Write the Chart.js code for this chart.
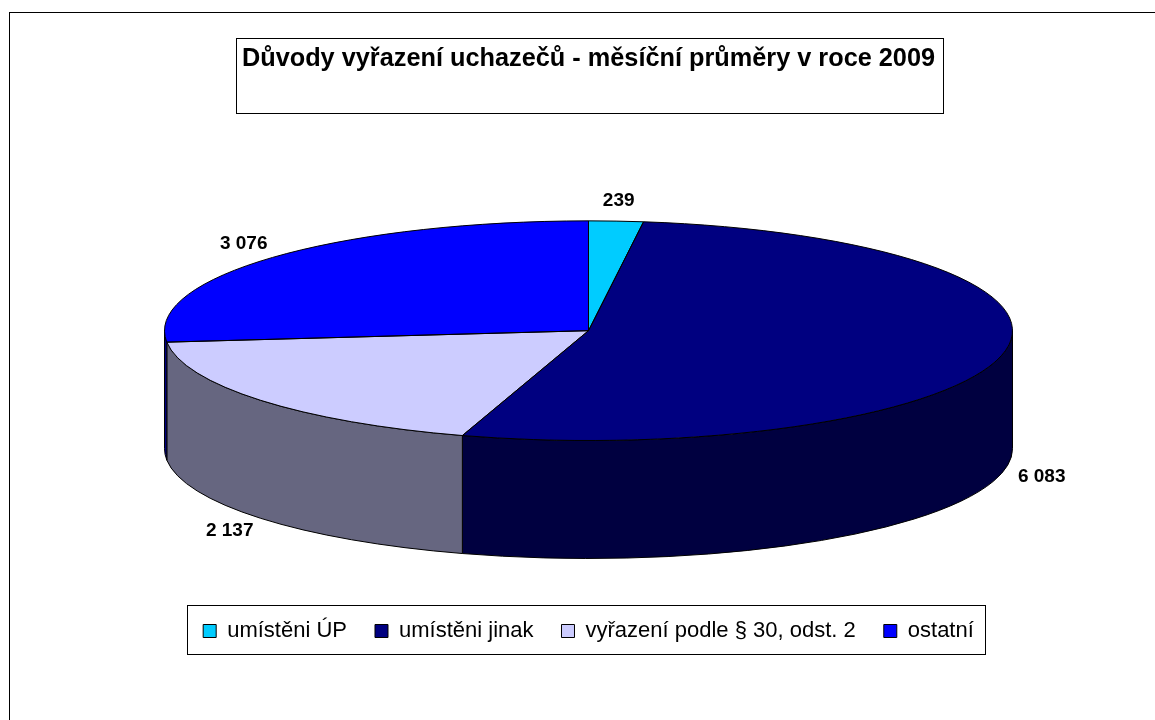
<!DOCTYPE html>
<html lang="cs">
<head>
<meta charset="utf-8">
<title>Důvody vyřazení uchazečů</title>
<script src="https://cdn.jsdelivr.net/npm/chart.js@4.4.0/dist/chart.umd.min.js"></script>
<style>
  html, body { margin: 0; padding: 0; background: #fff; }
  canvas { display: block; }
</style>
</head>
<body>
<canvas id="pieChart" width="1155" height="720"></canvas>
<script>
let chartTitle = 'Důvody vyřazení uchazečů - měsíční průměry v roce 2009';
let categories = ['umístěni ÚP', 'umístěni jinak', 'vyřazení podle § 30, odst. 2', 'ostatní'];
let monthlyAverages = [239, 6083, 2137, 3076];
let topColors = ['#00CCFF', '#000080', '#CCCCFF', '#0000FF'];
let sideColors = ['#006680', '#000040', '#666680', '#000080'];

let tilt = 0.259;   // ry / rx of the top face
let depth = 118;    // height of the pie wall
let fontFamily = '"Liberation Sans", Arial, sans-serif';
let titleSize = 25.3;
let titlePadding = { top: 44, bottom: -5 };

function formatValue(v) {
    return String(v).replace(/\B(?=(\d{3})+(?!\d))/g, ' ');
}

function pieGeometry(chart) {
    let arcs = chart.getDatasetMeta(0).data;
    let rx = arcs[0].outerRadius;
    return { arcs: arcs, cx: arcs[0].x, cy: arcs[0].y, rx: rx, ry: rx * tilt };
}

// squash the pie into an ellipse and give it a wall
let pie3d = {
    id: 'pie3d',
    beforeDatasetsDraw(chart) {
        let ctx = chart.ctx;
        let g = pieGeometry(chart);
        ctx.save();
        ctx.lineWidth = 1;
        ctx.strokeStyle = '#000';
        g.arcs.forEach((arc, i) => {
            let a0 = Math.max(arc.startAngle, 0);
            let a1 = Math.min(arc.endAngle, Math.PI);
            if (a1 <= a0) return;
            ctx.beginPath();
            ctx.ellipse(g.cx, g.cy, g.rx, g.ry, 0, a0, a1);
            ctx.lineTo(g.cx + g.rx * Math.cos(a1), g.cy + g.ry * Math.sin(a1) + depth);
            ctx.ellipse(g.cx, g.cy + depth, g.rx, g.ry, 0, a1, a0, true);
            ctx.closePath();
            ctx.fillStyle = sideColors[i];
            ctx.fill();
            ctx.stroke();
        });
        ctx.restore();

        ctx.save();
        ctx.translate(g.cx, g.cy);
        ctx.scale(1, tilt);
        ctx.translate(-g.cx, -g.cy);
    },
    afterDatasetsDraw(chart) {
        let ctx = chart.ctx;
        ctx.restore();
        let g = pieGeometry(chart);

        ctx.save();
        ctx.lineWidth = 1;
        ctx.strokeStyle = '#000';
        g.arcs.forEach(arc => {
            ctx.beginPath();
            ctx.moveTo(g.cx, g.cy);
            ctx.ellipse(g.cx, g.cy, g.rx, g.ry, 0, arc.startAngle, arc.endAngle);
            ctx.closePath();
            ctx.stroke();
        });

        ctx.fillStyle = '#000';
        ctx.font = 'bold 19px ' + fontFamily;
        ctx.textAlign = 'center';
        ctx.textBaseline = 'middle';
        g.arcs.forEach((arc, i) => {
            let mid = (arc.startAngle + arc.endAngle) / 2;
            let s = Math.sin(mid);
            let x = g.cx + (g.rx + 40) * Math.cos(mid);
            let y = g.cy + (g.ry + 20) * s + (s > 0 ? depth : 0);
            ctx.fillText(formatValue(monthlyAverages[i]), x, y);
        });
        ctx.restore();
    }
};

// frames round the chart, the title and the legend
let frames = {
    id: 'frames',
    afterDraw(chart) {
        let ctx = chart.ctx;
        ctx.save();
        ctx.lineWidth = 1;
        ctx.strokeStyle = '#000';
        ctx.strokeRect(9.5, 12.5, chart.width, chart.height);

        let t = chart.titleBlock;
        let titleMid = t.top + titlePadding.top + titleSize * 0.6;
        ctx.font = 'bold ' + titleSize + 'px ' + fontFamily;
        let tw = ctx.measureText(chartTitle).width;
        let tx = (t.left + t.right) / 2;
        ctx.strokeRect(Math.round(tx - tw / 2 - 6) + 0.5, Math.round(titleMid - 21) + 0.5,
            Math.round(tw + 14), 75);

        let boxes = chart.legend.legendHitBoxes;
        let first = boxes[0], last = boxes[boxes.length - 1];
        let legendMid = first.top + first.height / 2;
        let lx = Math.round(first.left - 16) + 0.5;
        ctx.strokeRect(lx, Math.round(legendMid - 26) + 0.5,
            Math.round(last.left + last.width + 12 - lx), 49);
        ctx.restore();
    }
};

new Chart(document.getElementById('pieChart').getContext('2d'), {
    type: 'pie',
    data: {
        labels: categories,
        datasets: [{
            data: monthlyAverages,
            backgroundColor: topColors,
            borderWidth: 0,
            clip: false
        }]
    },
    options: {
        responsive: false,
        animation: false,
        events: [],
        devicePixelRatio: 1,
        radius: 424,
        layout: { padding: { left: 22, right: 0, top: 0, bottom: 68 } },
        plugins: {
            title: {
                display: true,
                text: chartTitle,
                color: '#000',
                font: { family: fontFamily, size: titleSize, weight: 'bold' },
                padding: titlePadding
            },
            legend: {
                position: 'bottom',
                labels: {
                    color: '#000',
                    font: { family: fontFamily, size: 22 },
                    boxWidth: 13,
                    boxHeight: 13,
                    padding: 28,
                    generateLabels(chart) {
                        let items = Chart.overrides.pie.plugins.legend.labels.generateLabels(chart);
                        items.forEach(item => {
                            item.strokeStyle = '#000';
                            item.lineWidth = 1;
                        });
                        return items;
                    }
                }
            },
            tooltip: { enabled: false }
        }
    },
    plugins: [pie3d, frames]
});
</script>
</body>
</html>
